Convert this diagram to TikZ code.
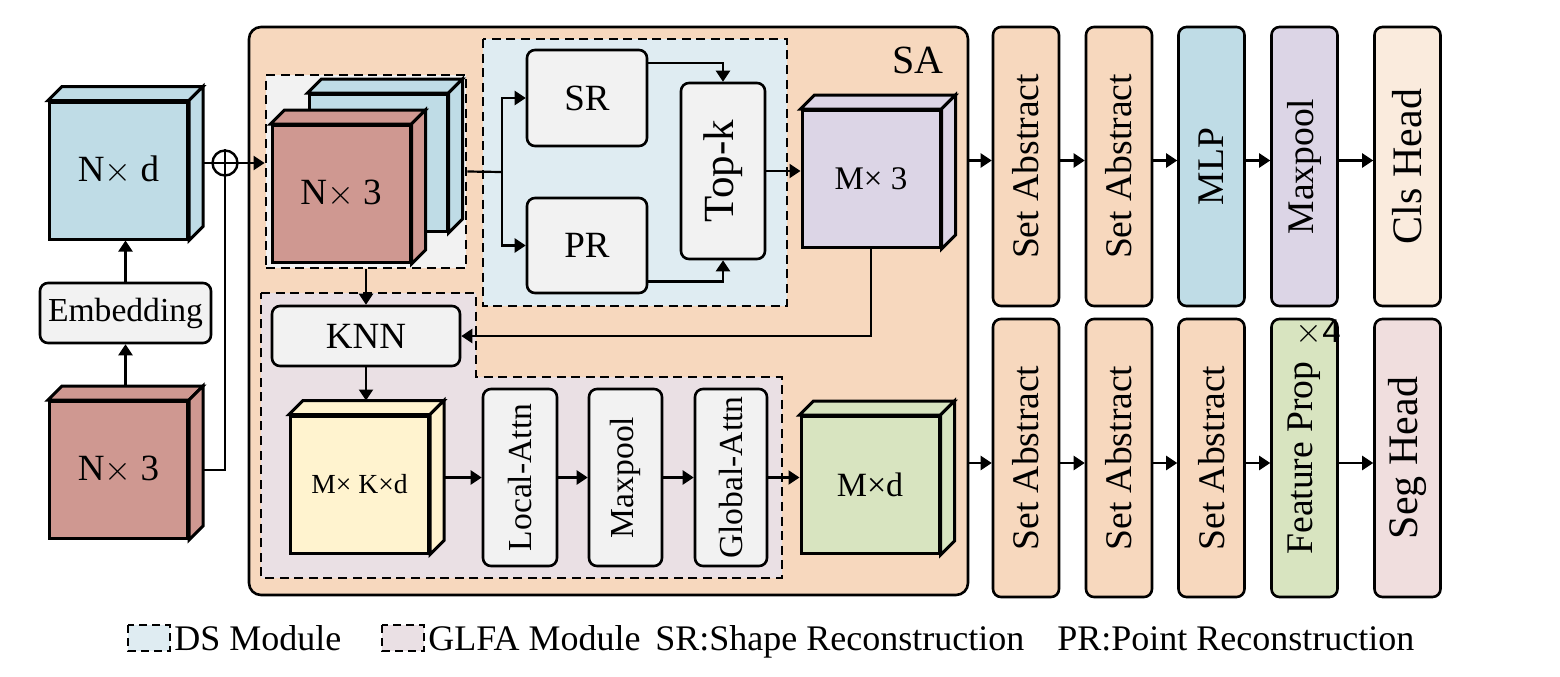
\documentclass[tikz,border=0pt]{standalone}
\usepackage{fontspec}
\setmainfont{Liberation Serif}
\setsansfont{Liberation Sans}
\usetikzlibrary{arrows.meta}

\definecolor{cubeblue}{HTML}{BFDCE6}
\definecolor{cubered}{HTML}{CF9891}
\definecolor{cubepurple}{HTML}{DCD5E6}
\definecolor{cubeyellow}{HTML}{FFF3CF}
\definecolor{cubegreen}{HTML}{D8E4C0}
\definecolor{safill}{HTML}{F7D8BE}
\definecolor{boxgrey}{HTML}{F2F2F2}
\definecolor{dsfill}{HTML}{DFECF2}
\definecolor{glfafill}{HTML}{EAE0E4}
\definecolor{clsfill}{HTML}{FAEBDD}
\definecolor{segfill}{HTML}{F0DEDE}

\begin{document}
\begin{tikzpicture}[x=0.5pt,y=-0.5pt]
      \useasboundingbox (0,0) rectangle (1560,676);

      % SA block
      \node[draw, line width=1.3pt, rounded corners=6pt, fill=safill,
        minimum width=359.5pt, minimum height=284pt] (sa) at (608.5,311) {};
      \node[font=\fontsize{20}{24}\selectfont] (salabel) at (918,60) {SA};

      % module areas
      \begin{scope}[dash pattern=on 4.5pt off 2.8pt, line width=1.35pt]
        \node[draw, fill=boxgrey, minimum width=100pt, minimum height=96.5pt] (grp) at (366,171.5) {};
        \draw[fill=dsfill] (483,39) rectangle (787,306);
        \draw[fill=glfafill] (261,293) -- (476,293) -- (476,377) -- (782,377)
          -- (782,578) -- (261,578) -- cycle;
      \end{scope}

      \begin{scope}[every node/.style={draw, line width=1.5pt, inner sep=0pt,
          minimum width=69pt, minimum height=68.5pt, font=\fontsize{18.5}{22}\selectfont}]
        \node[fill=cubeblue]   (nd)     at (118.5,170.5) {N$\times$ d};
        \node[fill=cubered]    (nthree) at (118.5,470)   {N$\times$ 3};
        \node[fill=cubeblue]   (back)   at (378,163)     {};
        \node[fill=cubered]    (front)  at (341,194)     {N$\times$ 3};
        \node[fill=cubepurple, font=\fontsize{16.5}{20}\selectfont] (mthree) at (871,179) {M× 3};
        \node[fill=cubeyellow, font=\fontsize{13.8}{16}\selectfont] (mkd)    at (359.5,484.5) {M× K×d};
        \node[fill=cubegreen,  font=\fontsize{17}{20}\selectfont]   (md)     at (870,485) {M×d};
      \end{scope}

      \foreach \c/\f in {nd/cubeblue, nthree/cubered, back/cubeblue, front/cubered,
          mthree/cubepurple, mkd/cubeyellow, md/cubegreen} {
        \draw[line width=1.5pt, fill=\f] (\c.north west) -- ++(14,-14)
          -- ([xshift=7pt,yshift=7pt]\c.north east) -- (\c.north east) -- cycle;
        \draw[line width=1.5pt, fill=\f] (\c.north east) -- ++(14,-14)
          -- ([xshift=7pt,yshift=7pt]\c.south east) -- (\c.south east) -- cycle;
      }

      \begin{scope}[every node/.style={draw, line width=1.3pt, rounded corners=4pt,
          fill=boxgrey, inner sep=0pt, font=\fontsize{18.5}{22}\selectfont}]
        \node[minimum width=85.5pt, minimum height=30pt, font=\fontsize{16.8}{20}\selectfont]
          (emb) at (125.5,313) {Embedding};
        \node[minimum width=94pt, minimum height=30pt] (knn) at (366,336) {KNN};
        \node[minimum width=60pt, minimum height=48pt] (sr) at (587,98) {SR};
        \node[minimum width=60pt, minimum height=47.5pt] (pr) at (587,245.5) {PR};
        \node[minimum width=42pt, minimum height=88pt, font=\fontsize{21.5}{26}\selectfont]
          (topk) at (723,171) {\rotatebox{90}{Top-k}};
      \end{scope}

      \begin{scope}[every node/.style={draw, line width=1.3pt, rounded corners=4pt,
          fill=boxgrey, inner sep=0pt, minimum height=88.5pt, font=\fontsize{16.8}{20}\selectfont}]
        \node[minimum width=37pt]   (local) at (520,477.5)   {\rotatebox{90}{Local-Attn}};
        \node[minimum width=36.5pt] (maxp)  at (625.5,477.5) {\rotatebox{90}{Maxpool}};
        \node[minimum width=36pt]   (glob)  at (731,477.5)   {\rotatebox{90}{Global-Attn}};
      \end{scope}

      \begin{scope}[every node/.style={draw, line width=1.3pt, rounded corners=4pt,
          inner sep=0pt, minimum width=33pt, font=\fontsize{18.8}{22}\selectfont}]
        \node[fill=safill,     minimum height=139.5pt] (cone)   at (1026,166.5)   {\rotatebox{90}{Set Abstract}};
        \node[fill=safill,     minimum height=139.5pt] (ctwo)   at (1119,166.5)   {\rotatebox{90}{Set Abstract}};
        \node[fill=cubeblue,   minimum height=139.5pt] (cthree) at (1211.5,166.5) {\rotatebox{90}{MLP}};
        \node[fill=cubepurple, minimum height=139.5pt] (cfour)  at (1304.5,166.5) {\rotatebox{90}{Maxpool}};
        \node[fill=clsfill,    minimum height=139.5pt, font=\fontsize{21}{25}\selectfont]
          (chead) at (1407.5,166.5) {\rotatebox{90}{Cls Head}};
        \node[fill=safill,     minimum height=139pt] (sone)   at (1026,458)   {\rotatebox{90}{Set Abstract}};
        \node[fill=safill,     minimum height=139pt] (stwo)   at (1119,458)   {\rotatebox{90}{Set Abstract}};
        \node[fill=safill,     minimum height=139pt] (sthree) at (1211.5,458) {\rotatebox{90}{Set Abstract}};
        \node[fill=cubegreen,  minimum height=139pt] (sfour)  at (1304.5,458) {\rotatebox{90}{Feature Prop}};
        \node[fill=segfill,    minimum height=139pt, font=\fontsize{21}{25}\selectfont]
          (shead) at (1407.5,458) {\rotatebox{90}{Seg Head}};
      \end{scope}
      \node[font=\sffamily\fontsize{16.5}{20}\selectfont, inner sep=0pt] (times) at (1318,333) {$\times$4};

      \node[circle, draw, line width=1.2pt, fill=white, inner sep=0pt, minimum size=12.5pt] (plus) at (225,163) {};
      \coordinate (br) at (502,172);

      \begin{scope}[line width=1.1pt, >={Triangle[length=5.5pt,width=7pt]}]
        \draw[->] ([xshift=7pt]nd.east |- plus) -- (grp.west |- plus);
        \draw ([xshift=7pt]nthree.east) -| (plus.north);
        \draw[->] ([yshift=7pt]nthree.north -| emb) -- (emb.south);
        \draw[->] (emb.north) -- (emb.north |- nd.south);
        \draw[->] (grp.south) -- (knn.north);
        \draw (grp.east) -- (br);
        \draw[->] (br) |- (sr.west);
        \draw[->] (br) |- (pr.west);
        \draw[->] ([yshift=17.5pt]sr.east) -| (topk.north);
        \draw[->] ([yshift=-18pt]pr.east) -| (topk.south);
        \draw[->] (topk.east) -- (topk.east -| mthree.west);
        \draw[->] (mthree.south) |- (knn.east);
        \draw[->] (knn.south) -- ([yshift=7pt]knn.south |- mkd.north);
        \draw[->] ([xshift=7pt]mkd.east |- local) -- (local.west);
        \path[->] (local) edge (maxp);
        \path[->] (maxp)  edge (glob);
        \draw[->] (glob.east) -- (glob.east -| md.west);
        \draw[->] ([yshift=3pt]cone.west -| sa.east) -- ([yshift=3pt]cone.west);
        \draw[->] ([yshift=-2.5pt]sone.west -| sa.east) -- ([yshift=-2.5pt]sone.west);
        \path[->] ([yshift=3pt]cone.east)   edge ([yshift=3pt]ctwo.west);
        \path[->] ([yshift=3pt]ctwo.east)   edge ([yshift=3pt]cthree.west);
        \path[->] ([yshift=3pt]cthree.east) edge ([yshift=3pt]cfour.west);
        \path[->] ([yshift=3pt]cfour.east)  edge ([yshift=3pt]chead.west);
        \path[->] ([yshift=-2.5pt]sone.east)   edge ([yshift=-2.5pt]stwo.west);
        \path[->] ([yshift=-2.5pt]stwo.east)   edge ([yshift=-2.5pt]sthree.west);
        \path[->] ([yshift=-2.5pt]sthree.east) edge ([yshift=-2.5pt]sfour.west);
        \path[->] ([yshift=-2.5pt]sfour.east)  edge ([yshift=-2.5pt]shead.west);
      \end{scope}

      % legend
      \begin{scope}[every node/.style={anchor=base west, inner sep=0pt, font=\fontsize{18}{22}\selectfont}]
        \draw[dash pattern=on 4pt off 2.5pt, line width=1.3pt, fill=dsfill] (128,625) rectangle (170,651);
        \node (lds) at (174,650) {DS Module};
        \draw[dash pattern=on 4pt off 2.5pt, line width=1.3pt, fill=glfafill] (382,625) rectangle (424,651);
        \node (lglfa) at (428,650) {GLFA Module};
        \node (lsr) at (655,650) {SR:Shape Reconstruction};
        \node (lpr) at (1057,650) {PR:Point Reconstruction};
      \end{scope}

    \end{tikzpicture}
\end{document}
